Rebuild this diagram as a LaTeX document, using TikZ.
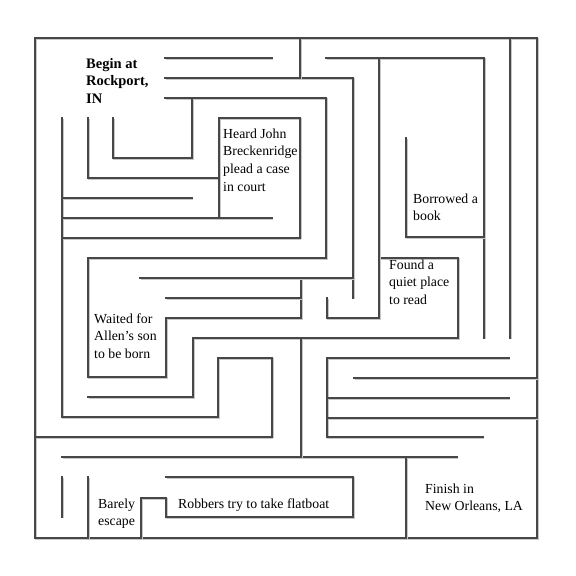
\documentclass[tikz,border=0pt]{standalone}
\usepackage{fontspec}
\setmainfont{Liberation Serif}
\begin{document}
\begin{tikzpicture}[x=1pt,y=-1pt,
  wall/.style={draw=black!72, line width=1.5pt, line cap=rect,
    preaction={draw=black!22, line width=1.5pt, transform canvas={shift={(1pt,-1pt)}}}},
  lbl/.style={anchor=base west, inner sep=0pt, font=\fontsize{13.8}{17.8}\selectfont, text=black}]
\useasboundingbox (0,0) rectangle (576,576);
\newcommand\mlines[1]{\begin{tabular}[t]{@{}l@{}}#1\end{tabular}}
% outer border
\draw[wall] (35,38) rectangle (537,538);
% top-left region
\draw[wall] (165,58) -- (272,58);
\draw[wall] (165,78) -- (353,78) -- (353,298);
\draw[wall] (165,98) -- (326,98) -- (326,258) -- (88,258) -- (88,377) -- (166,377) -- (166,318) -- (301,318) -- (301,278);
\draw[wall] (192,98) -- (192,158) -- (113,158) -- (113,118);
\draw[wall] (88,118) -- (88,178) -- (219,178);
\draw[wall] (219,218) -- (219,118) -- (300,118) -- (300,238);
\draw[wall] (62,118) -- (62,417) -- (218,417) -- (218,358) -- (272,358) -- (272,437);
\draw[wall] (62,198) -- (192,198);
\draw[wall] (62,218) -- (272,218);
\draw[wall] (62,238) -- (300,238);
\draw[wall] (140,278) -- (353,278);
\draw[wall] (166,298) -- (301,298);
\draw[wall] (88,397) -- (193,397) -- (193,338) -- (458,338) -- (458,258) -- (379,258);
\draw[wall] (35,437) -- (272,437);
\draw[wall] (62,457) -- (457,457);
\draw[wall] (406,457) -- (406,538);
\draw[wall] (301,338) -- (301,457);
% bottom
\draw[wall] (166,477) -- (353,477) -- (353,517) -- (166,517) -- (166,498) -- (141,498) -- (141,538);
\draw[wall] (62,477) -- (62,517);
\draw[wall] (88,477) -- (88,538);
% right region
\draw[wall] (300,38) -- (300,78);
\draw[wall] (326,58) -- (484,58) -- (484,338);
\draw[wall] (379,58) -- (379,318) -- (327,318) -- (327,298);
\draw[wall] (406,138) -- (406,237) -- (484,237);
\draw[wall] (510,38) -- (510,338);
\draw[wall] (509,358) -- (327,358) -- (327,437) -- (483,437);
\draw[wall] (354,378) -- (537,378);
\draw[wall] (327,398) -- (509,398);
\draw[wall] (327,418) -- (537,418);
% labels
\node[lbl, font=\fontsize{14.5}{17.5}\selectfont\bfseries] (begin) at (86,68) {\mlines{Begin at\\Rockport,\\IN}};
\node[lbl] (heard) at (223,138) {\mlines{Heard John\\Breckenridge\\plead a case\\in court}};
\node[lbl] (book) at (413,203) {\mlines{Borrowed a\\book}};
\node[lbl] (quiet) at (389,269) {\mlines{Found a\\quiet place\\to read}};
\node[lbl] (wait) at (94,323) {\mlines{Waited for\\Allen’s son\\to be born}};
\node[lbl] (barely) at (98,508) {\mlines{Barely\\escape}};
\node[lbl] (robbers) at (178,508) {Robbers try to take flatboat};
\node[lbl] (finish) at (425,493) {\mlines{Finish in\\New Orleans, LA}};
\end{tikzpicture}
\end{document}
